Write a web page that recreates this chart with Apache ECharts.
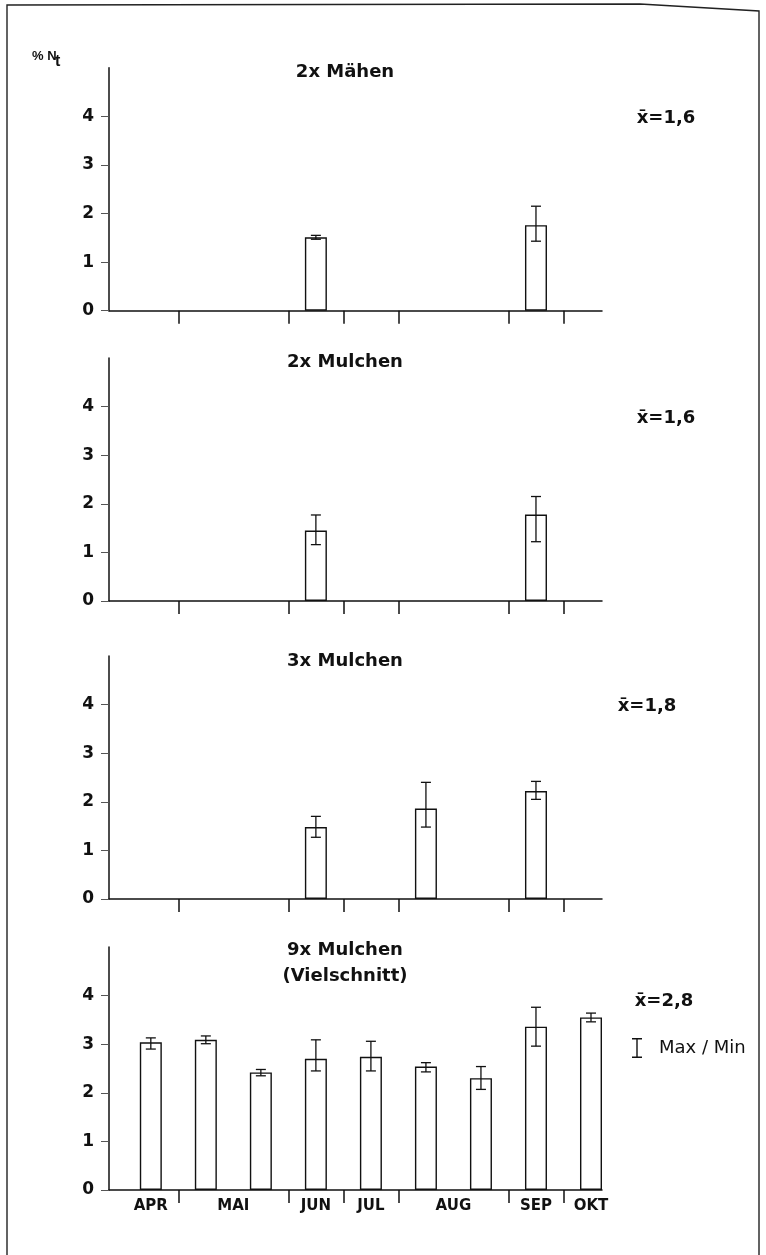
<!DOCTYPE html>
<html>
<head>
<meta charset="utf-8">
<script src="https://cdn.jsdelivr.net/npm/echarts@6/dist/echarts.min.js"></script>
<style>
html, body { margin: 0; padding: 0; background: #fff; }
#chart { width: 766px; height: 1255px; }
</style>
</head>
<body>
<div id="chart"></div>
<script>
/* Probenahmetermine: Slot 1..9, Monat je Slot */
var months = ['APR', 'MAI', 'JUN', 'JUL', 'AUG', 'SEP', 'OKT'];
var slotMonth = [0, 1, 1, 2, 3, 4, 4, 5, 6];
var yTicks = [0, 1, 2, 3, 4];

var panelTitles = ['2x Mähen', '2x Mulchen', '3x Mulchen', '9x Mulchen\n(Vielschnitt)'];
var meanLabels = ['x\u0304=1,6', 'x\u0304=1,6', 'x\u0304=1,8', 'x\u0304=2,8'];

/* % Nt je Termin: Mittel, Max, Min */
var maehen2Slot = [4, 8];
var maehen2Val = [1.51, 1.76];
var maehen2Max = [1.55, 2.15];
var maehen2Min = [1.47, 1.43];

var mulchen2Slot = [4, 8];
var mulchen2Val = [1.45, 1.78];
var mulchen2Max = [1.77, 2.15];
var mulchen2Min = [1.16, 1.22];

var mulchen3Slot = [4, 6, 8];
var mulchen3Val = [1.48, 1.86, 2.22];
var mulchen3Max = [1.70, 2.40, 2.42];
var mulchen3Min = [1.27, 1.48, 2.05];

var mulchen9Slot = [1, 2, 3, 4, 5, 6, 7, 8, 9];
var mulchen9Val = [3.04, 3.09, 2.42, 2.70, 2.74, 2.54, 2.30, 3.36, 3.55];
var mulchen9Max = [3.13, 3.17, 2.48, 3.09, 3.06, 2.62, 2.54, 3.76, 3.64];
var mulchen9Min = [2.90, 3.01, 2.35, 2.45, 2.45, 2.43, 2.07, 2.96, 3.46];

var panels = [
    {slot: maehen2Slot, val: maehen2Val, max: maehen2Max, min: maehen2Min},
    {slot: mulchen2Slot, val: mulchen2Val, max: mulchen2Max, min: mulchen2Min},
    {slot: mulchen3Slot, val: mulchen3Val, max: mulchen3Max, min: mulchen3Min},
    {slot: mulchen9Slot, val: mulchen9Val, max: mulchen9Max, min: mulchen9Min}
];

var FONT = "'DejaVu Sans', 'Liberation Sans', sans-serif";
var zeroY = [310.7, 601, 899, 1190];
var gridH = 243;
var titleY = [72, 362, 661, 963];
var meanX = [666, 666, 647, 664];
var meanY = [118, 418, 706, 1001];

/* Monatsgrenzen (Striche) und Monatsmitte (Beschriftung) aus den Slots */
var monthTicks = [];
var monthLabelPos = [];
var monthByPos = {};
for (var i = 1; i < slotMonth.length; i++) {
    if (slotMonth[i] !== slotMonth[i - 1]) monthTicks.push(i + 0.5);
}
months.forEach(function (m, mi) {
    var s = [];
    slotMonth.forEach(function (sm, k) { if (sm === mi) s.push(k + 1); });
    var pos = s.reduce(function (a, b) { return a + b; }, 0) / s.length;
    monthLabelPos.push(pos);
    monthByPos[pos] = m;
});

function renderErr(params, api) {
    var x = api.value(0);
    var hi = api.coord([x, api.value(1)]);
    var lo = api.coord([x, api.value(2)]);
    var w = 5;
    var st = {stroke: '#111', lineWidth: 1.3};
    return {
        type: 'group',
        children: [
            {type: 'line', shape: {x1: hi[0], y1: hi[1], x2: lo[0], y2: lo[1]}, style: st},
            {type: 'line', shape: {x1: hi[0] - w, y1: hi[1], x2: hi[0] + w, y2: hi[1]}, style: st},
            {type: 'line', shape: {x1: lo[0] - w, y1: lo[1], x2: lo[0] + w, y2: lo[1]}, style: st}
        ]
    };
}

var grids = [], xAxes = [], yAxes = [], series = [], graphics = [];

panels.forEach(function (p, i) {
    grids.push({left: 109, width: 493, top: zeroY[i] - gridH, height: gridH});
    xAxes.push({
        gridIndex: i,
        type: 'value',
        min: 0.24,
        max: 9.2,
        axisLine: {show: true, lineStyle: {color: '#111', width: 1.5}},
        axisTick: {show: true, customValues: monthTicks, length: 13, lineStyle: {color: '#111', width: 1.5}},
        axisLabel: {
            show: i === 3,
            customValues: monthLabelPos,
            formatter: function (v) { return monthByPos[v] || ''; },
            fontFamily: FONT, fontWeight: 'bold', fontSize: 15, color: '#111', margin: 9
        },
        splitLine: {show: false}
    });
    yAxes.push({
        gridIndex: i,
        type: 'value',
        min: 0,
        max: 5,
        interval: 1,
        axisLine: {show: true, lineStyle: {color: '#111', width: 1.5}},
        axisTick: {show: true, customValues: yTicks, length: 8, lineStyle: {color: '#555', width: 1}},
        axisLabel: {customValues: yTicks, fontFamily: FONT, fontWeight: 'bold', fontSize: 17, color: '#111', margin: 15},
        splitLine: {show: false}
    });
    series.push({
        type: 'bar',
        xAxisIndex: i,
        yAxisIndex: i,
        barWidth: 22,
        silent: true,
        itemStyle: {color: '#fff', borderColor: '#111', borderWidth: 1.4},
        data: p.slot.map(function (s, k) { return [s, p.val[k]]; })
    });
    series.push({
        name: 'Max / Min',
        type: 'custom',
        xAxisIndex: i,
        yAxisIndex: i,
        z: 5,
        silent: true,
        itemStyle: {color: '#111'},
        renderItem: renderErr,
        encode: {x: 0, y: [1, 2]},
        data: p.slot.map(function (s, k) { return [s, p.max[k], p.min[k]]; })
    });
    graphics.push({
        type: 'text', x: 345, y: titleY[i],
        style: {
            text: panelTitles[i], fill: '#111', font: 'bold 18px ' + FONT, lineHeight: 26,
            align: 'center', verticalAlign: 'middle', textAlign: 'center', textVerticalAlign: 'middle'
        }
    });
    graphics.push({
        type: 'text', x: meanX[i], y: meanY[i],
        style: {
            text: meanLabels[i], fill: '#111', font: 'bold 18px ' + FONT,
            align: 'center', verticalAlign: 'middle', textAlign: 'center', textVerticalAlign: 'middle'
        }
    });
});

/* Rahmen und Achsentitel */
graphics.push({
    type: 'polyline',
    shape: {points: [[7, 1260], [7, 5], [640, 4], [759, 11], [759, 1260]]},
    style: {stroke: '#222', lineWidth: 1.4, fill: null}
});
graphics.push({type: 'text', x: 32, y: 56, style: {text: '% N', fill: '#111', font: "bold 13px 'Liberation Sans', sans-serif", verticalAlign: 'middle', textVerticalAlign: 'middle'}});
graphics.push({type: 'text', x: 55, y: 62, style: {text: 't', fill: '#111', font: "bold 16px 'Liberation Sans', sans-serif", verticalAlign: 'middle', textVerticalAlign: 'middle'}});

var chart = echarts.init(document.getElementById('chart'));
chart.setOption({
    animation: false,
    backgroundColor: '#fff',
    grid: grids,
    xAxis: xAxes,
    yAxis: yAxes,
    legend: {
        data: ['Max / Min'],
        left: 632,
        top: 1038,
        padding: 0,
        selectedMode: false,
        itemWidth: 10,
        itemHeight: 20,
        icon: 'path://M0,0H10V1.4H0Z M4.3,0H5.7V20H4.3Z M0,18.6H10V20H0Z',
        textStyle: {fontFamily: FONT, fontSize: 18, color: '#111', padding: [0, 0, 0, 12]}
    },
    graphic: graphics,
    series: series
});
</script>
</body>
</html>
